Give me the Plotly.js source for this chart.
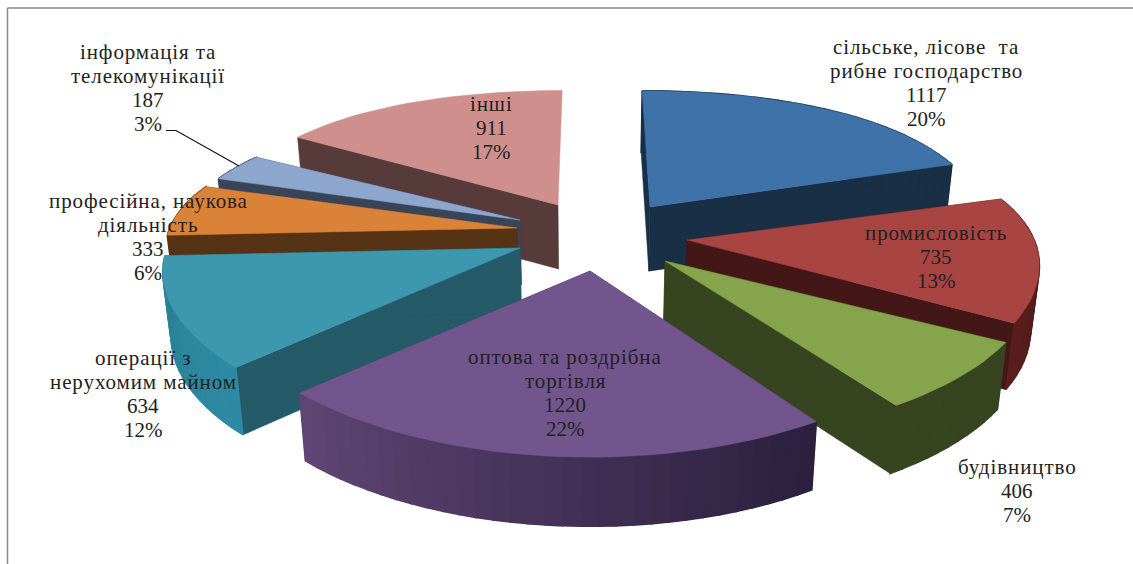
<!DOCTYPE html>
<html><head><meta charset="utf-8">
<script src="https://cdn.plot.ly/plotly-3.0.1.min.js"></script>
<style>html,body{margin:0;padding:0;background:#fff}#c{width:1133px;height:564px}</style>
</head><body><div id="c"></div>
<script>
const categories = ["сільське, лісове  та<br>рибне господарство","промисловість","будівництво","оптова та роздрібна<br>торгівля","операції з<br>нерухомим майном","професійна, наукова<br>діяльність","інформація та<br>телекомунікації","інші"];
const values = [1117,735,406,1220,634,333,187,911];
const percents = [20,13,7,22,12,6,3,17];

// styling and geometry of the drawing (not data)
const topColors  = ["#3E72A8","#A84442","#86A44B","#71558C","#3D98AF","#DA8238","#8CA6CE","#CE8F8D"];
const edgeColors = ["#182F46","#431716","#36451F","#4A3A62","#255A68","#573316","#384559","#573A3A"];
const rimStart   = ["#182F46","#431716","#36451F","#2A1F3D","#2E8AA3","#573316","#384559","#573A3A"];
const rimEnd     = ["#182F46","#5A1E1C","#36451F","#5F4674","#2A7F96","#573316","#384559","#573A3A"];
const apexX = [650,687,665,590,520,517,520,558];
const apexY = [207,240,261,271,248,228,220,205];
const scaleX = [.93,.97,1.015,1.03,.985,.97,.94,.92];
const scaleY = [.985,.95,.93,.97,.95,.9,.9,.97];
const endFaceHidden = [false,false,false,false,false,false,false,true];
const paintOrder = [7,0,6,5,1,4,2,3];
const labelX = [926,936,1017,565,143,148,148,491];
const labelY = [47,233,467,357,358,201,52,104];
const linePitch = 24;
const vanishX = 590;
const converge = 0.13;

const total = values.reduce((a,b)=>a+b,0);
const rad = d=>d*Math.PI/180;
const rx = t=>358-50*Math.cos(t);
const ry = t=>155-37*Math.cos(t);
const depth = y=>60+0.02*y;
const lower = p=>[vanishX+(p[0]-vanishX)*0.98, p[1]+depth(p[1])];
const hex = c=>[1,3,5].map(i=>parseInt(c.substr(i,2),16));
const mix = (a,b,f)=>{const A=hex(a),B=hex(b);return "rgb("+A.map((v,i)=>Math.round(v+(B[i]-v)*f)).join(",")+")";};
const poly = (pts,color,w)=>({type:"scatter",mode:"lines",x:pts.map(p=>p[0]).concat(pts[0][0]),y:pts.map(p=>p[1]).concat(pts[0][1]),fill:"toself",fillcolor:color,line:{color:color,width:w||0.5},hoverinfo:"skip",showlegend:false});

let start=0; const spans=values.map(v=>{const a=start;start+=v/total*360;return [a,start];});
const traces=[];
paintOrder.forEach(i=>{
  const [a0,a1]=spans[i];
  const apex=[apexX[i],apexY[i]];
  const n=Math.max(6,Math.round((a1-a0)/2.5));
  const arc=[];
  for(let k=0;k<=n;k++){
    const t=rad(a0+(a1-a0)*k/n);
    arc.push([apex[0]+scaleX[i]*rx(t)*Math.sin(t)-converge*(apex[0]-vanishX)*Math.cos(t),apex[1]-scaleY[i]*ry(t)*Math.cos(t)]);
  }
  traces.push(poly([apex,arc[0],lower(arc[0]),lower(apex)],edgeColors[i]));
  if(!endFaceHidden[i]) traces.push(poly([apex,arc[n],lower(arc[n]),lower(apex)],edgeColors[i]));
  for(let k=0;k<n;k++){
    if(endFaceHidden[i]) break;
    traces.push(poly([arc[k],arc[k+1],lower(arc[k+1]),lower(arc[k])],mix(rimStart[i],rimEnd[i],(k+0.5)/n),1.5));
  }
  traces.push(poly([apex].concat(arc),topColors[i]));
});
traces.push({type:"scatter",mode:"lines",x:[166,176,239],y:[130.5,130.5,166],line:{color:"#111",width:1.2},hoverinfo:"skip",showlegend:false});

const annotations=[];
categories.forEach((c,i)=>{
  const names=c.split("<br>");
  const lines=names.map(s=>'<span style="letter-spacing:0.9px">'+s+'</span>').concat([String(values[i]),percents[i]+"%"]);
  lines.forEach((t,j)=>annotations.push({
    x:labelX[i],y:labelY[i]+j*linePitch,xref:"x",yref:"y",showarrow:false,align:"center",text:t,
    font:{family:"Liberation Serif, serif",size:21,color:"#222"}
  }));
});

Plotly.newPlot("c",traces,{
  width:1133,height:564,margin:{l:0,r:0,t:0,b:0},showlegend:false,
  paper_bgcolor:"#fff",plot_bgcolor:"#fff",
  xaxis:{range:[0,1133],visible:false,fixedrange:true},
  yaxis:{range:[564,0],visible:false,fixedrange:true},
  annotations:annotations,
  shapes:[
    {type:"line",xref:"paper",yref:"paper",x0:7.5/1133,x1:1,y0:1-8/564,y1:1-8/564,line:{color:"#888",width:1.5}},
    {type:"line",xref:"paper",yref:"paper",x0:7.5/1133,x1:7.5/1133,y0:1-8/564,y1:0,line:{color:"#888",width:1.5}}
  ]
},{displayModeBar:false,staticPlot:true});
</script></body></html>
